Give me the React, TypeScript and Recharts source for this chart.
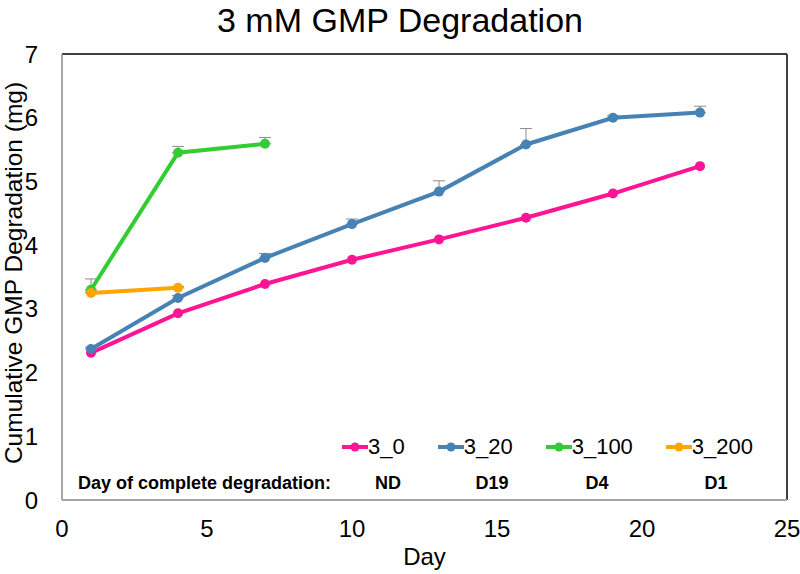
import React from 'react';
import { LineChart, Line, XAxis, YAxis, ErrorBar, ReferenceLine, Legend } from 'recharts';

const FONT = '"Liberation Sans", Arial, Helvetica, sans-serif';

const title = '3 mM GMP Degradation';
const xLabel = 'Day';
const yLabel = 'Cumulative GMP Degradation (mg)';
const xTicks = [0, 5, 10, 15, 20, 25];
const yTicks = [0, 1, 2, 3, 4, 5, 6, 7];

const days = [1, 4, 7, 10, 13, 16, 19, 22];
const seriesNames = ['3_0', '3_20', '3_100', '3_200'];
const seriesColors = ['#FF1493', '#4682B4', '#33CC33', '#FFA500'];

const values0 = [2.31, 2.93, 3.39, 3.77, 4.09, 4.43, 4.81, 5.24];
const values20 = [2.37, 3.17, 3.80, 4.33, 4.84, 5.58, 6.00, 6.08];
const err20 = [0.03, 0.04, 0.07, 0.08, 0.17, 0.25, 0.03, 0.1];
const values100 = [3.30, 5.45, 5.59];
const err100 = [0.17, 0.1, 0.1];
const values200 = [3.25, 3.33];
const err200 = [0.03, 0.02];

const degradationLabel = 'Day of complete degradation:';
const degradationDays = ['ND', 'D19', 'D4', 'D1'];

const build = (vals: number[], errs?: number[]) =>
  vals.map((v, i) => ({ day: days[i], value: v, err: [0, errs ? errs[i] : 0] }));

const data0 = build(values0);
const data20 = build(values20, err20);
const data100 = build(values100, err100);
const data200 = build(values200, err200);
const allData = [data0, data20, data100, data200];
const hasErr = [false, true, true, true];

const dayCenters = [388, 492, 597, 716];

const LegendContent = () => (
  <div style={{ position: 'relative', width: 800, height: 574, fontFamily: FONT }}>
    <div
      style={{
        position: 'absolute',
        left: 342,
        top: 434,
        display: 'flex',
        alignItems: 'center',
        gap: 33,
        fontSize: 22,
        lineHeight: '26px',
        color: '#000',
        whiteSpace: 'nowrap',
      }}
    >
      {seriesNames.map((n, i) => (
        <div key={n} style={{ display: 'flex', alignItems: 'center' }}>
          <svg width={26} height={12} style={{ display: 'block' }}>
            <line x1={0} y1={6} x2={26} y2={6} stroke={seriesColors[i]} strokeWidth={4} />
            <circle cx={13} cy={6} r={4.5} fill={seriesColors[i]} />
          </svg>
          <span>{n}</span>
        </div>
      ))}
    </div>
    <div
      style={{
        position: 'absolute',
        left: 78,
        top: 472,
        fontSize: 18,
        fontWeight: 'bold',
        lineHeight: '22px',
        whiteSpace: 'nowrap',
      }}
    >
      {degradationLabel}
    </div>
    {degradationDays.map((d, i) => (
      <div
        key={d}
        style={{
          position: 'absolute',
          left: dayCenters[i] - 40,
          width: 80,
          top: 472,
          textAlign: 'center',
          fontSize: 18,
          fontWeight: 'bold',
          lineHeight: '22px',
        }}
      >
        {d}
      </div>
    ))}
  </div>
);

export default function App() {
  return (
    <div style={{ position: 'absolute', left: 0, top: 0, width: 800, height: 574, background: '#fff' }}>
      <div
        style={{
          position: 'absolute',
          left: 0,
          top: 0,
          width: 800,
          height: 40,
          lineHeight: '40px',
          textAlign: 'center',
          fontFamily: FONT,
          fontSize: 34,
          color: '#000',
          zIndex: 2,
        }}
      >
        {title}
      </div>
      <LineChart width={800} height={574} margin={{ top: 54, right: 13, bottom: 0, left: 0 }}>
        <XAxis
          type="number"
          dataKey="day"
          domain={[0, 25]}
          ticks={xTicks}
          allowDuplicatedCategory={false}
          height={74}
          tickSize={0}
          tickMargin={19.5}
          tickLine={false}
          axisLine={{ stroke: '#a6a6a6', strokeWidth: 2 }}
          tick={{ fill: '#000', fontSize: 24, fontFamily: FONT }}
          label={{ value: xLabel, position: 'center', dy: 19, style: { fill: '#000', fontSize: 24, fontFamily: FONT } }}
        />
        <YAxis
          type="number"
          domain={[0, 7]}
          ticks={yTicks}
          width={62}
          tickSize={0}
          tickMargin={24}
          tickLine={false}
          axisLine={{ stroke: '#a6a6a6', strokeWidth: 2 }}
          tick={{ fill: '#000', fontSize: 24, fontFamily: FONT }}
          label={{
            value: yLabel,
            angle: -90,
            position: 'center',
            dx: -17.5,
            dy: -4,
            style: { fill: '#000', fontSize: 24.5, fontFamily: FONT, textAnchor: 'middle' },
          }}
        />
        <ReferenceLine y={7} stroke="#404040" strokeWidth={2} />
        <ReferenceLine x={25} stroke="#404040" strokeWidth={2} />
        {allData.map((d, i) => (
          <Line
            key={seriesNames[i]}
            data={d}
            dataKey="value"
            name={seriesNames[i]}
            stroke={seriesColors[i]}
            strokeWidth={4}
            dot={{ r: 5, fill: seriesColors[i], stroke: seriesColors[i], strokeWidth: 0 }}
            activeDot={false}
            isAnimationActive={false}
          >
            {hasErr[i] && (
              <ErrorBar dataKey="err" direction="y" stroke="#8c8c8c" strokeWidth={1} width={6} />
            )}
          </Line>
        ))}
        <Legend
          layout="horizontal"
          verticalAlign="middle"
          align="center"
          wrapperStyle={{ left: 0, top: 0, width: 800, height: 574, margin: 0, pointerEvents: 'none' }}
          content={() => <LegendContent />}
        />
      </LineChart>
    </div>
  );
}
